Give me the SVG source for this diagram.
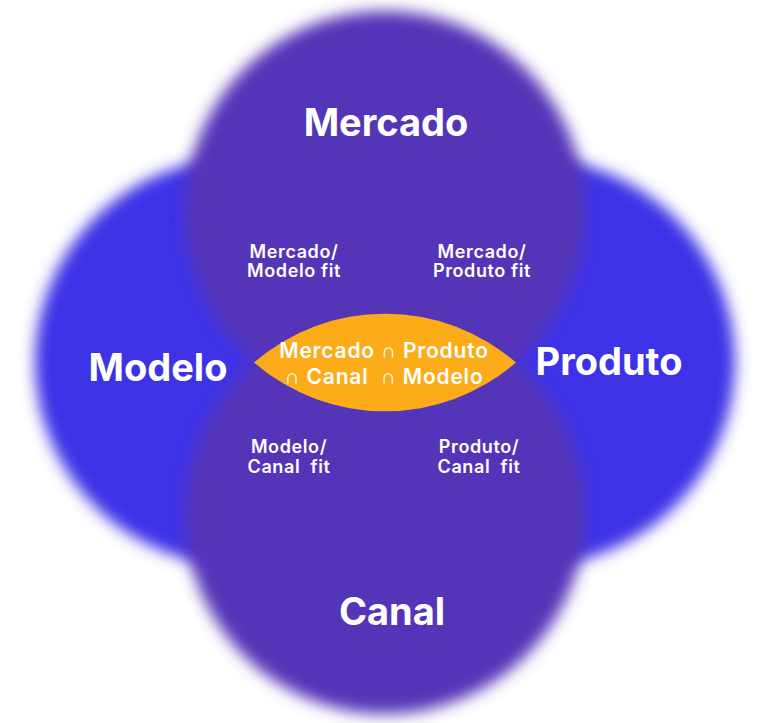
<svg xmlns="http://www.w3.org/2000/svg" width="768" height="723" viewBox="0 0 768 723">
<defs>
<style>
.big{font-family:Inter,"Noto Sans",sans-serif;font-weight:700;font-size:38px;fill:#fff;text-anchor:middle}
.small{font-family:Inter,"Noto Sans",sans-serif;font-weight:600;font-size:18px;letter-spacing:0.6px;fill:#fff;text-anchor:middle;white-space:pre}
.mid{font-family:Inter,"Noto Sans",sans-serif;font-weight:600;font-size:21px;letter-spacing:0.8px;fill:#fff;text-anchor:middle;white-space:pre}
.blue{fill:#3C33E6}
.purple{fill:#5535B7}
</style>
<filter id="blur" x="-20%" y="-20%" width="140%" height="140%"><feGaussianBlur stdDeviation="7.5"/></filter>
</defs>
<rect width="768" height="723" fill="#fff"/>
<g id="modelo">
<circle class="blue" cx="239" cy="362" r="204" filter="url(#blur)"/>
</g>
<g id="produto">
<circle class="blue" cx="531" cy="362" r="204" filter="url(#blur)"/>
</g>
<g id="mercado">
<circle class="purple" cx="385" cy="211" r="200" filter="url(#blur)"/>
</g>
<g id="canal">
<circle class="purple" cx="385" cy="514" r="200" filter="url(#blur)"/>
</g>
<g id="intersection">
<path d="M254,362.5 A200,200 0 0 1 516,362.5 A200,200 0 0 1 254,362.5 Z" fill="#FBAC18"/>
<text class="mid" x="384" y="358">Mercado ∩ Produto</text>
<text class="mid" x="384" y="384">∩ Canal  ∩ Modelo</text>
</g>
<g id="labels">
<text class="big" x="386" y="136">Mercado</text>
<text class="big" x="158" y="381">Modelo</text>
<text class="big" x="609" y="375">Produto</text>
<text class="big" x="392" y="625">Canal</text>
<text class="small" x="294" y="258">Mercado/</text>
<text class="small" x="294" y="277">Modelo fit</text>
<text class="small" x="482" y="258">Mercado/</text>
<text class="small" x="482" y="277">Produto fit</text>
<text class="small" x="289" y="453">Modelo/</text>
<text class="small" x="289" y="473">Canal  fit</text>
<text class="small" x="479" y="453">Produto/</text>
<text class="small" x="479" y="473">Canal  fit</text>
</g>
<g id="connectors"/>
</svg>
